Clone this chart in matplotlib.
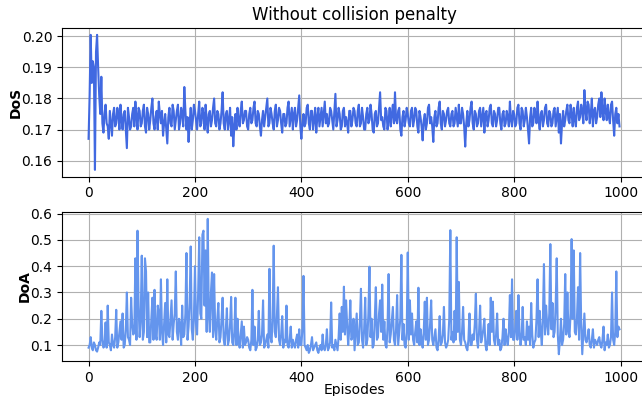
import numpy as np
import matplotlib

matplotlib.use("Agg")
import matplotlib.pyplot as plt
from matplotlib.ticker import MultipleLocator

# values: one list on episodes 0, 4, 8, ...
# and one on the episodes in between (2, 6, 10, ...)
ep_a = np.arange(0, 1000, 4)
ep_b = ep_a + 2

dos_a = [
    0.167, 0.2005, 0.192, 0.157, 0.2005, 0.181, 0.187, 0.169, 0.178, 0.171,
    0.176, 0.168, 0.177, 0.172, 0.175, 0.178, 0.170, 0.176, 0.164, 0.174,
    0.171, 0.177, 0.179, 0.170, 0.176,
    0.172, 0.178, 0.169, 0.175, 0.173, 0.180, 0.170, 0.176, 0.179, 0.172,
    0.168, 0.175, 0.1655, 0.177, 0.171, 0.176, 0.173, 0.178, 0.172, 0.175,
    0.1837, 0.170, 0.166, 0.177, 0.173,
    0.176, 0.170, 0.179, 0.172, 0.175, 0.178, 0.169, 0.176, 0.173, 0.180,
    0.171, 0.175, 0.172, 0.182, 0.170, 0.176, 0.173, 0.168, 0.1646, 0.175,
    0.177, 0.171, 0.179, 0.173, 0.176,
    0.170, 0.177, 0.173, 0.179, 0.171, 0.175, 0.168, 0.176, 0.174, 0.180,
    0.172, 0.175, 0.170, 0.178, 0.173, 0.176, 0.169, 0.175, 0.172, 0.179,
    0.174, 0.170, 0.177, 0.173, 0.181,
    0.167, 0.175, 0.172, 0.178, 0.170, 0.176, 0.173, 0.169, 0.177, 0.174,
    0.171, 0.179, 0.175, 0.172, 0.176, 0.170, 0.1815, 0.173, 0.175, 0.171,
    0.177, 0.174, 0.169, 0.176, 0.173,
    0.176, 0.171, 0.178, 0.172, 0.174, 0.170, 0.177, 0.173, 0.175, 0.169,
    0.176, 0.172, 0.182, 0.174, 0.170, 0.176, 0.173, 0.171, 0.178, 0.182,
    0.172, 0.177, 0.168, 0.176, 0.173,
    0.175, 0.171, 0.177, 0.173, 0.176, 0.169, 0.174, 0.1665, 0.175, 0.172,
    0.178, 0.174, 0.166, 0.176, 0.172, 0.179, 0.170, 0.175, 0.173, 0.177,
    0.171, 0.176, 0.172, 0.174, 0.178,
    0.172, 0.175, 0.1645, 0.176, 0.173, 0.179, 0.170, 0.175, 0.172, 0.177,
    0.174, 0.169, 0.176, 0.173, 0.178, 0.171, 0.175, 0.173, 0.177, 0.170,
    0.176, 0.172, 0.174, 0.179, 0.171,
    0.175, 0.172, 0.178, 0.170, 0.176, 0.173, 0.174, 0.1655, 0.177, 0.172,
    0.175, 0.179, 0.170, 0.176, 0.173, 0.178, 0.171, 0.175, 0.172, 0.177,
    0.174, 0.169, 0.1655, 0.176, 0.173,
    0.178, 0.172, 0.175, 0.177, 0.171, 0.179, 0.174, 0.176, 0.1827, 0.173,
    0.178, 0.175, 0.171, 0.177, 0.174, 0.180, 0.182, 0.173, 0.176, 0.178,
    0.172, 0.179, 0.168, 0.177, 0.175,
]

dos_b = [
    0.181, 0.185, 0.190, 0.195, 0.190, 0.175, 0.172, 0.175, 0.172, 0.167,
    0.172, 0.175, 0.171, 0.177, 0.170, 0.173, 0.175, 0.170, 0.177, 0.170,
    0.175, 0.171, 0.174, 0.177, 0.171,
    0.176, 0.171, 0.177, 0.170, 0.177, 0.172, 0.174, 0.170, 0.175, 0.176,
    0.172, 0.170, 0.174, 0.172, 0.178, 0.170, 0.176, 0.170, 0.177, 0.171,
    0.176, 0.174, 0.172, 0.170, 0.178,
    0.173, 0.175, 0.171, 0.177, 0.170, 0.173, 0.175, 0.171, 0.177, 0.172,
    0.176, 0.170, 0.176, 0.172, 0.175, 0.170, 0.177, 0.174, 0.171, 0.170,
    0.173, 0.176, 0.172, 0.176, 0.171,
    0.175, 0.172, 0.177, 0.172, 0.176, 0.171, 0.173, 0.171, 0.177, 0.171,
    0.177, 0.172, 0.176, 0.171, 0.177, 0.172, 0.175, 0.171, 0.177, 0.171,
    0.177, 0.175, 0.171, 0.177, 0.171,
    0.172, 0.171, 0.177, 0.172, 0.176, 0.170, 0.177, 0.174, 0.171, 0.177,
    0.175, 0.172, 0.171, 0.177, 0.173, 0.176, 0.171, 0.177, 0.170, 0.176,
    0.171, 0.172, 0.176, 0.171, 0.177,
    0.172, 0.176, 0.171, 0.177, 0.170, 0.175, 0.172, 0.178, 0.170, 0.175,
    0.171, 0.177, 0.173, 0.171, 0.177, 0.170, 0.177, 0.175, 0.172, 0.173,
    0.176, 0.170, 0.174, 0.171, 0.177,
    0.172, 0.176, 0.171, 0.177, 0.171, 0.176, 0.171, 0.173, 0.170, 0.177,
    0.172, 0.171, 0.174, 0.171, 0.177, 0.172, 0.176, 0.171, 0.176, 0.172,
    0.175, 0.171, 0.177, 0.171, 0.172,
    0.177, 0.171, 0.172, 0.171, 0.177, 0.172, 0.176, 0.171, 0.176, 0.171,
    0.177, 0.175, 0.171, 0.177, 0.172, 0.176, 0.171, 0.177, 0.172, 0.175,
    0.171, 0.176, 0.171, 0.173, 0.176,
    0.171, 0.177, 0.172, 0.177, 0.171, 0.177, 0.170, 0.174, 0.171, 0.177,
    0.172, 0.173, 0.175, 0.171, 0.177, 0.172, 0.176, 0.171, 0.176, 0.171,
    0.177, 0.175, 0.172, 0.171, 0.176,
    0.173, 0.178, 0.171, 0.173, 0.177, 0.173, 0.178, 0.172, 0.176, 0.179,
    0.172, 0.180, 0.176, 0.172, 0.178, 0.174, 0.176, 0.180, 0.173, 0.174,
    0.178, 0.173, 0.175, 0.172, 0.171,
]

doa_a = [
    0.09, 0.13, 0.08, 0.10, 0.075, 0.11, 0.23, 0.09, 0.186, 0.25,
    0.10, 0.14, 0.09, 0.234, 0.11, 0.19, 0.22, 0.10, 0.30, 0.12,
    0.28, 0.14, 0.43, 0.535, 0.13,
    0.44, 0.15, 0.38, 0.30, 0.11, 0.28, 0.31, 0.12, 0.22, 0.35,
    0.10, 0.26, 0.35, 0.13, 0.27, 0.18, 0.38, 0.12, 0.18, 0.25,
    0.14, 0.45, 0.17, 0.475, 0.12,
    0.40, 0.14, 0.51, 0.20, 0.535, 0.46, 0.58, 0.15, 0.376, 0.37,
    0.12, 0.26, 0.13, 0.28, 0.10, 0.24, 0.12, 0.283, 0.10, 0.28,
    0.20, 0.09, 0.19, 0.17, 0.11,
    0.12, 0.08, 0.31, 0.17, 0.09, 0.23, 0.11, 0.27, 0.10, 0.14,
    0.39, 0.11, 0.478, 0.13, 0.32, 0.10, 0.21, 0.12, 0.25, 0.09,
    0.17, 0.12, 0.09, 0.14, 0.16,
    0.10, 0.363, 0.09, 0.10, 0.08, 0.13, 0.09, 0.11, 0.07, 0.10,
    0.14, 0.08, 0.16, 0.09, 0.262, 0.10, 0.12, 0.08, 0.22, 0.245,
    0.322, 0.27, 0.10, 0.27, 0.13,
    0.08, 0.22, 0.11, 0.314, 0.09, 0.28, 0.12, 0.398, 0.20, 0.10,
    0.32, 0.13, 0.27, 0.33, 0.19, 0.09, 0.37, 0.14, 0.245, 0.10,
    0.29, 0.15, 0.443, 0.18, 0.09,
    0.452, 0.27, 0.22, 0.10, 0.19, 0.318, 0.16, 0.09, 0.265, 0.28,
    0.12, 0.27, 0.10, 0.16, 0.08, 0.21, 0.11, 0.245, 0.09, 0.12,
    0.537, 0.15, 0.23, 0.51, 0.34,
    0.10, 0.245, 0.11, 0.08, 0.22, 0.10, 0.12, 0.295, 0.09, 0.25,
    0.13, 0.20, 0.08, 0.18, 0.28, 0.265, 0.10, 0.22, 0.12, 0.09,
    0.20, 0.16, 0.10, 0.29, 0.35,
    0.12, 0.23, 0.29, 0.10, 0.245, 0.13, 0.19, 0.17, 0.26, 0.09,
    0.12, 0.35, 0.23, 0.10, 0.408, 0.25, 0.14, 0.484, 0.26, 0.15,
    0.43, 0.065, 0.20, 0.12, 0.37,
    0.30, 0.13, 0.503, 0.46, 0.14, 0.32, 0.45, 0.065, 0.22, 0.11,
    0.16, 0.09, 0.16, 0.12, 0.10, 0.13, 0.09, 0.17, 0.11, 0.14,
    0.10, 0.30, 0.10, 0.38, 0.17,
]

doa_b = [
    0.10, 0.09, 0.11, 0.08, 0.09, 0.10, 0.12, 0.10, 0.09, 0.11,
    0.08, 0.10, 0.13, 0.09, 0.15, 0.12, 0.09, 0.16, 0.13, 0.10,
    0.18, 0.15, 0.12, 0.25, 0.20,
    0.12, 0.43, 0.13, 0.11, 0.20, 0.12, 0.14, 0.25, 0.12, 0.15,
    0.18, 0.11, 0.14, 0.20, 0.12, 0.22, 0.15, 0.20, 0.10, 0.13,
    0.22, 0.12, 0.26, 0.16, 0.20,
    0.18, 0.30, 0.22, 0.52, 0.25, 0.15, 0.22, 0.30, 0.13, 0.16,
    0.20, 0.11, 0.20, 0.12, 0.16, 0.10, 0.18, 0.11, 0.15, 0.10,
    0.12, 0.14, 0.09, 0.10, 0.13,
    0.09, 0.12, 0.10, 0.08, 0.12, 0.10, 0.14, 0.09, 0.12, 0.09,
    0.13, 0.20, 0.15, 0.21, 0.12, 0.14, 0.09, 0.11, 0.10, 0.12,
    0.09, 0.10, 0.12, 0.09, 0.10,
    0.16, 0.10, 0.08, 0.07, 0.10, 0.08, 0.10, 0.08, 0.09, 0.08,
    0.09, 0.10, 0.08, 0.11, 0.09, 0.08, 0.10, 0.13, 0.12, 0.15,
    0.14, 0.18, 0.16, 0.12, 0.20,
    0.15, 0.10, 0.19, 0.12, 0.16, 0.10, 0.22, 0.13, 0.09, 0.20,
    0.12, 0.22, 0.15, 0.12, 0.10, 0.17, 0.11, 0.19, 0.12, 0.16,
    0.10, 0.20, 0.12, 0.10, 0.15,
    0.12, 0.14, 0.12, 0.15, 0.11, 0.10, 0.12, 0.15, 0.12, 0.10,
    0.18, 0.12, 0.13, 0.09, 0.12, 0.10, 0.14, 0.11, 0.10, 0.20,
    0.12, 0.11, 0.12, 0.15, 0.12,
    0.15, 0.12, 0.09, 0.12, 0.10, 0.14, 0.18, 0.12, 0.15, 0.11,
    0.16, 0.10, 0.12, 0.10, 0.15, 0.12, 0.14, 0.10, 0.08, 0.13,
    0.10, 0.12, 0.15, 0.13, 0.12,
    0.16, 0.12, 0.15, 0.13, 0.12, 0.10, 0.12, 0.10, 0.14, 0.11,
    0.20, 0.13, 0.15, 0.20, 0.14, 0.18, 0.22, 0.16, 0.13, 0.25,
    0.14, 0.12, 0.10, 0.18, 0.14,
    0.16, 0.22, 0.20, 0.15, 0.20, 0.12, 0.18, 0.14, 0.12, 0.13,
    0.10, 0.12, 0.09, 0.11, 0.12, 0.10, 0.12, 0.08, 0.10, 0.09,
    0.13, 0.12, 0.15, 0.13, 0.16,
]

# merge the two sample sets in episode order
episodes = np.column_stack((ep_a, ep_b)).ravel()
dos = np.column_stack((dos_a, dos_b)).ravel()
doa = np.column_stack((doa_a, doa_b)).ravel()

fig = plt.figure(figsize=(6.42, 3.96), dpi=100)
ax1 = fig.add_axes([0.0966, 0.554, 0.9097, 0.375])
ax2 = fig.add_axes([0.0966, 0.0884, 0.9097, 0.376])

ax1.plot(episodes, dos, color="royalblue", linewidth=1.5)
ax1.set_title("Without collision penalty")
ax1.set_ylabel("DoS", fontweight="bold", labelpad=-1)
ax1.grid(True)

ax2.plot(episodes, doa, color="cornflowerblue", linewidth=1.5)
ax2.yaxis.set_major_locator(MultipleLocator(0.1))
ax2.set_xlabel("Episodes", labelpad=-1)
ax2.set_ylabel("DoA", fontweight="bold", labelpad=-1)
ax2.grid(True)

fig.savefig("out.png", dpi=100)
